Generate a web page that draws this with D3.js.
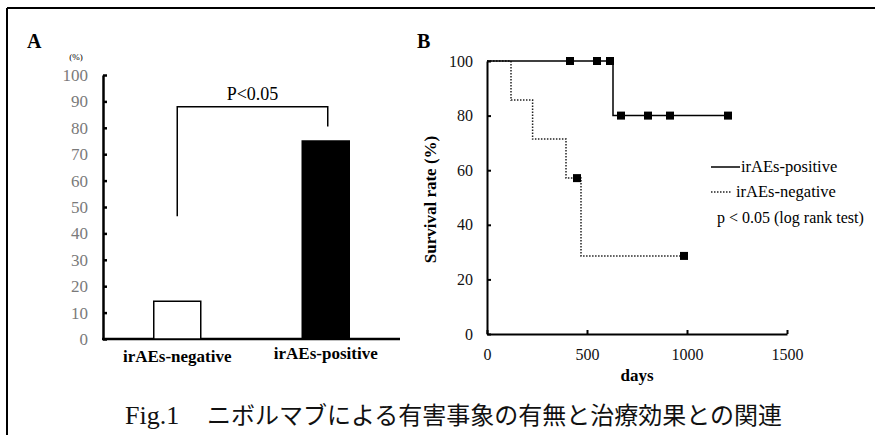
<!DOCTYPE html>
<html>
<head>
<meta charset="utf-8">
<script src="https://cdn.jsdelivr.net/npm/d3@7"></script>
<style>
  body { margin: 0; background: #fff; }
  svg { display: block; }
</style>
</head>
<body>
<div id="chart"></div>
<script>
// panel A data
var barCategories = ["irAEs-negative", "irAEs-positive"];
var barValues = [14.3, 75];
var barFills = ["#fff", "#000"];
var yTicksA = [0, 10, 20, 30, 40, 50, 60, 70, 80, 90, 100];

// panel B data (Kaplan-Meier steps: day, survival %)
var posDays = [0, 630, 1205];
var posSurv = [100, 80, 80];
var negDays = [0, 120, 228, 395, 470, 985];
var negSurv = [100, 85.7, 71.4, 57.1, 28.6, 28.6];
var posCensorDays = [415, 550, 615, 670, 805, 915, 1205];
var posCensorSurv = [100, 100, 100, 80, 80, 80, 80];
var negCensorDays = [450, 985];
var negCensorSurv = [57.1, 28.6];
var yTicksB = [0, 20, 40, 60, 80, 100];
var xTicksB = [0, 500, 1000, 1500];

var SERIF = "'Liberation Serif', 'Times New Roman', serif";
var CJK = "'Noto Sans CJK JP', 'Noto Sans', sans-serif";

var svgWidth = 875;
var svgHeight = 435;

var svg = d3.select("#chart")
    .append("svg")
    .attr("width", svgWidth)
    .attr("height", svgHeight);

// outer frame (top + left only)
svg.append("line")
    .attr("x1", 7).attr("x2", svgWidth).attr("y1", 8).attr("y2", 8)
    .attr("stroke", "#000").attr("stroke-width", 2);
svg.append("line")
    .attr("x1", 7).attr("x2", 7).attr("y1", 8).attr("y2", svgHeight)
    .attr("stroke", "#000").attr("stroke-width", 2);

// ---------------- Panel A ----------------
var yA = d3.scaleLinear().domain([0, 100]).range([339, 75]);
var xA = d3.scalePoint().domain(barCategories).range([103, 400]).padding(0.5);
var barWidth = 47;

svg.append("text")
    .attr("font-family", SERIF)
    .attr("x", 27).attr("y", 48)
    .attr("font-size", "20px").attr("font-weight", "bold")
    .text("A");

svg.append("text")
    .attr("font-family", SERIF)
    .attr("x", 76).attr("y", 60)
    .attr("text-anchor", "middle")
    .attr("font-size", "9px")
    .text("(%)");

var yAxisA = svg.append("g")
    .attr("transform", "translate(103,0)")
    .call(d3.axisLeft(yA).tickValues(yTicksA).tickSizeInner(-4).tickSizeOuter(0).tickPadding(15));
yAxisA.attr("font-family", SERIF).attr("font-size", 17);
yAxisA.select(".domain").attr("stroke-width", 2.5);
yAxisA.selectAll(".tick line").attr("stroke-width", 2.5);
yAxisA.selectAll("text").attr("fill", "#7a7a7a");

svg.append("line")
    .attr("x1", 102).attr("x2", 400)
    .attr("y1", yA(0)).attr("y2", yA(0))
    .attr("stroke", "#000").attr("stroke-width", 2.5);

svg.selectAll("rect.bar")
    .data(barValues)
    .enter()
    .append("rect")
    .attr("class", "bar")
    .attr("x", (d, i) => xA(barCategories[i]) - barWidth / 2)
    .attr("y", d => yA(d))
    .attr("width", barWidth)
    .attr("height", d => yA(0) - yA(d))
    .attr("fill", (d, i) => barFills[i])
    .attr("stroke", "#000")
    .attr("stroke-width", 1.5);

svg.selectAll("text.cat")
    .data(barCategories)
    .enter()
    .append("text")
    .attr("class", "cat")
    .attr("font-family", SERIF)
    .attr("x", d => xA(d))
    .attr("y", (d, i) => i === 0 ? 362 : 359)
    .attr("text-anchor", "middle")
    .attr("font-size", "17px")
    .attr("font-weight", "bold")
    .text(d => d);

// significance bracket
var bx1 = xA(barCategories[0]);
var bx2 = xA(barCategories[1]) + 2;
svg.append("path")
    .attr("d", `M${bx1},${yA(46.5)} V${yA(88)} H${bx2} V${yA(80.5)}`)
    .attr("fill", "none")
    .attr("stroke", "#000")
    .attr("stroke-width", 1.5);
svg.append("text")
    .attr("font-family", SERIF)
    .attr("x", (bx1 + bx2) / 2).attr("y", 100)
    .attr("text-anchor", "middle")
    .attr("font-size", "18px")
    .text("P<0.05");

// ---------------- Panel B ----------------
var xB = d3.scaleLinear().domain([0, 1500]).range([487, 787]);
var yB = d3.scaleLinear().domain([0, 100]).range([334, 61]);

svg.append("text")
    .attr("font-family", SERIF)
    .attr("x", 417).attr("y", 48)
    .attr("font-size", "20px").attr("font-weight", "bold")
    .text("B");

var yAxisB = svg.append("g")
    .attr("transform", `translate(${xB(0)},0)`)
    .call(d3.axisLeft(yB).tickValues(yTicksB).tickSizeInner(-4).tickSizeOuter(0).tickPadding(14));
var xAxisB = svg.append("g")
    .attr("transform", `translate(0,${yB(0)})`)
    .call(d3.axisBottom(xB).tickValues(xTicksB).tickFormat(d3.format("d")).tickSizeInner(-4).tickSizeOuter(0).tickPadding(15));
[yAxisB, xAxisB].forEach(g => {
    g.attr("font-family", SERIF).attr("font-size", 16);
    g.select(".domain").attr("stroke-width", 2);
    g.selectAll(".tick line").attr("stroke-width", 2);
    g.selectAll("text").attr("fill", "#111");
});

svg.append("text")
    .attr("font-family", SERIF)
    .attr("x", xB(750)).attr("y", 381)
    .attr("text-anchor", "middle")
    .attr("font-size", "17px").attr("font-weight", "bold")
    .text("days");

svg.append("text")
    .attr("font-family", SERIF)
    .attr("transform", `translate(436,${(yB(0) + yB(100)) / 2 + 2}) rotate(-90)`)
    .attr("text-anchor", "middle")
    .attr("font-size", "17px").attr("font-weight", "bold")
    .text("Survival rate (%)");

var stepLine = d3.line()
    .x(d => xB(d[0]))
    .y(d => yB(d[1]))
    .curve(d3.curveStepAfter);

svg.append("path")
    .datum(negDays.map((d, i) => [d, negSurv[i]]))
    .attr("d", stepLine)
    .attr("fill", "none")
    .attr("stroke", "#222")
    .attr("stroke-width", 1.5)
    .attr("stroke-dasharray", "1.5,1.5");

svg.append("path")
    .datum(posDays.map((d, i) => [d, posSurv[i]]))
    .attr("d", stepLine)
    .attr("fill", "none")
    .attr("stroke", "#000")
    .attr("stroke-width", 1.5);

var censors = posCensorDays.map((d, i) => [d, posCensorSurv[i]])
    .concat(negCensorDays.map((d, i) => [d, negCensorSurv[i]]));
var sq = 8;
svg.selectAll("rect.censor")
    .data(censors)
    .enter()
    .append("rect")
    .attr("class", "censor")
    .attr("x", d => xB(d[0]) - sq / 2)
    .attr("y", d => yB(d[1]) - sq / 2)
    .attr("width", sq)
    .attr("height", sq)
    .attr("fill", "#000");

// legend
svg.append("line")
    .attr("x1", 711).attr("x2", 740).attr("y1", 167).attr("y2", 167)
    .attr("stroke", "#000").attr("stroke-width", 1.5);
svg.append("text")
    .attr("font-family", SERIF)
    .attr("x", 741).attr("y", 172)
    .attr("font-size", "16.5px")
    .text("irAEs-positive");
svg.append("line")
    .attr("x1", 711).attr("x2", 731).attr("y1", 192).attr("y2", 192)
    .attr("stroke", "#222").attr("stroke-width", 1.5)
    .attr("stroke-dasharray", "1.5,1.5");
svg.append("text")
    .attr("font-family", SERIF)
    .attr("x", 736).attr("y", 197)
    .attr("font-size", "16.5px")
    .text("irAEs-negative");
svg.append("text")
    .attr("font-family", SERIF)
    .attr("x", 717).attr("y", 223)
    .attr("font-size", "16px")
    .text("p < 0.05 (log rank test)");

// caption
var caption = svg.append("text")
    .attr("y", 424)
    .attr("fill", "#111");
caption.append("tspan")
    .attr("x", 125)
    .attr("font-family", SERIF)
    .attr("font-size", "26px")
    .text("Fig.1");
caption.append("tspan")
    .attr("x", 207)
    .attr("font-family", CJK)
    .attr("font-size", "24px")
    .text("ニボルマブによる有害事象の有無と治療効果との関連");
</script>
</body>
</html>
